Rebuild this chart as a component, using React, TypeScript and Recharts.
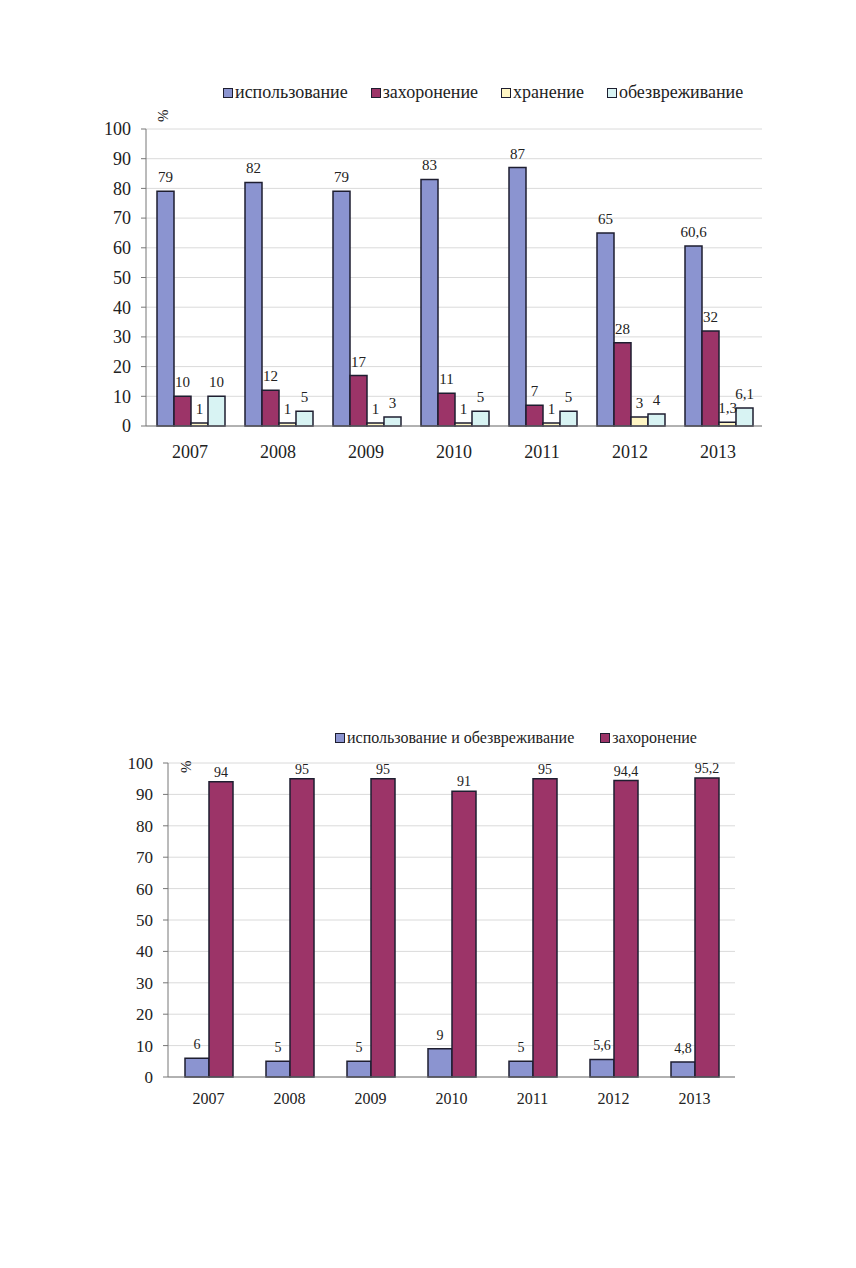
import React from "react";
import { BarChart, Bar, XAxis, YAxis, CartesianGrid, LabelList } from "recharts";

const SERIF = "'Liberation Serif', 'Times New Roman', 'DejaVu Serif', serif";

// ---- chart 1: structure of waste handling, %
const years = ["2007", "2008", "2009", "2010", "2011", "2012", "2013"];
const usage = [79, 82, 79, 83, 87, 65, 60.6];
const burial = [10, 12, 17, 11, 7, 28, 32];
const storage = [1, 1, 1, 1, 1, 3, 1.3];
const neutral = [10, 5, 3, 5, 5, 4, 6.1];

// ---- chart 2
const usageNeutral = [6, 5, 5, 9, 5, 5.6, 4.8];
const burial2 = [94, 95, 95, 91, 95, 94.4, 95.2];

const yTicks = [0, 10, 20, 30, 40, 50, 60, 70, 80, 90, 100];
const bounds = [0, 1, 2, 3, 4, 5, 6, 7];

const BLUE = "#8b94d0";
const PLUM = "#9c3468";
const YELLOW = "#fff6c4";
const CYAN = "#d8f3f3";
const EDGE = "#1e1e30";

const topData = years.map((y, i) => ({
  year: y,
  usage: usage[i],
  burial: burial[i],
  storage: storage[i],
  neutral: neutral[i],
}));

const bottomData = years.map((y, i) => ({
  year: y,
  usageNeutral: usageNeutral[i],
  burial: burial2[i],
}));

const fmt = (v: any) => String(v).replace(".", ",");

const labelStyle = { fontFamily: SERIF, fontSize: 15, fill: "#222" };

function LegendRow({ items, fontSize, gap }: { items: { label: string; color: string }[]; fontSize: number; gap: number }) {
  return (
    <div style={{ display: "flex", alignItems: "center", gap, fontFamily: SERIF, fontSize, color: "#222", whiteSpace: "nowrap" }}>
      {items.map((it) => (
        <span key={it.label} style={{ display: "flex", alignItems: "center" }}>
          <span style={{ width: 8, height: 8, background: it.color, border: `1.5px solid ${EDGE}`, marginRight: 2 }} />
          {it.label}
        </span>
      ))}
    </div>
  );
}

function Pct({ left, top }: { left: number; top: number }) {
  return (
    <div style={{ position: "absolute", left, top, fontFamily: SERIF, fontSize: 15, color: "#222", transform: "rotate(-90deg)", transformOrigin: "left top" }}>
      %
    </div>
  );
}

export default function App() {
  return (
    <div style={{ position: "absolute", left: 0, top: 0, width: 856, height: 1268, background: "#fff" }}>
      {/* top chart */}
      <div style={{ position: "absolute", left: 0, top: 0 }}>
        <BarChart width={856} height={500} data={topData} margin={{ top: 129, right: 94, left: 96, bottom: 44 }} barGap={0} barCategoryGap={11}>
          <CartesianGrid vertical={false} stroke="#dadada" />
          <XAxis xAxisId="b" type="number" domain={[0, 7]} ticks={bounds} height={0} tick={false} tickSize={5} axisLine={false} tickLine={{ stroke: "#777" }} />
          <XAxis dataKey="year" height={30} tickSize={0} tickMargin={19} axisLine={{ stroke: "#777" }} tickLine={false} tick={{ fontFamily: SERIF, fontSize: 18, fill: "#222" }} interval={0} />
          <YAxis width={50} domain={[0, 100]} ticks={yTicks} tickSize={5} tickMargin={10} axisLine={{ stroke: "#777" }} tickLine={{ stroke: "#777" }} tick={{ fontFamily: SERIF, fontSize: 18, fill: "#222" }} />
          <Bar dataKey="usage" fill={BLUE} stroke={EDGE} strokeWidth={1.5} isAnimationActive={false}>
            <LabelList dataKey="usage" position="top" offset={9} formatter={fmt} style={labelStyle} />
          </Bar>
          <Bar dataKey="burial" fill={PLUM} stroke={EDGE} strokeWidth={1.5} isAnimationActive={false}>
            <LabelList dataKey="burial" position="top" offset={9} formatter={fmt} style={labelStyle} />
          </Bar>
          <Bar dataKey="storage" fill={YELLOW} stroke={EDGE} strokeWidth={1.5} isAnimationActive={false}>
            <LabelList dataKey="storage" position="top" offset={9} formatter={fmt} style={labelStyle} />
          </Bar>
          <Bar dataKey="neutral" fill={CYAN} stroke={EDGE} strokeWidth={1.5} isAnimationActive={false}>
            <LabelList dataKey="neutral" position="top" offset={9} formatter={fmt} style={labelStyle} />
          </Bar>
        </BarChart>
      </div>
      <div style={{ position: "absolute", left: 223, top: 82 }}>
        <LegendRow
          fontSize={18}
          gap={23}
          items={[
            { label: "использование", color: BLUE },
            { label: "захоронение", color: PLUM },
            { label: "хранение", color: YELLOW },
            { label: "обезвреживание", color: CYAN },
          ]}
        />
      </div>
      <Pct left={155} top={122} />

      {/* bottom chart */}
      <div style={{ position: "absolute", left: 0, top: 640 }}>
        <BarChart width={856} height={520} data={bottomData} margin={{ top: 123, right: 121, left: 118, bottom: 53 }} barGap={0} barCategoryGap={17}>
          <CartesianGrid vertical={false} stroke="#dadada" />
          <XAxis xAxisId="b" type="number" domain={[0, 7]} ticks={bounds} height={0} tick={false} tickSize={5} axisLine={false} tickLine={{ stroke: "#777" }} />
          <XAxis dataKey="year" height={30} tickSize={0} tickMargin={16} axisLine={{ stroke: "#777" }} tickLine={false} tick={{ fontFamily: SERIF, fontSize: 16, fill: "#222" }} interval={0} />
          <YAxis width={50} domain={[0, 100]} ticks={yTicks} tickSize={5} tickMargin={10} axisLine={{ stroke: "#777" }} tickLine={{ stroke: "#777" }} tick={{ fontFamily: SERIF, fontSize: 17, fill: "#222" }} />
          <Bar dataKey="usageNeutral" fill={BLUE} stroke={EDGE} strokeWidth={1.5} isAnimationActive={false}>
            <LabelList dataKey="usageNeutral" position="top" offset={9} formatter={fmt} style={{ ...labelStyle, fontSize: 14 }} />
          </Bar>
          <Bar dataKey="burial" fill={PLUM} stroke={EDGE} strokeWidth={1.5} isAnimationActive={false}>
            <LabelList dataKey="burial" position="top" offset={5} formatter={fmt} style={{ ...labelStyle, fontSize: 14 }} />
          </Bar>
        </BarChart>
      </div>
      <div style={{ position: "absolute", left: 335, top: 729 }}>
        <LegendRow
          fontSize={16}
          gap={26}
          items={[
            { label: "использование и обезвреживание", color: BLUE },
            { label: "захоронение", color: PLUM },
          ]}
        />
      </div>
      <Pct left={178} top={773} />
    </div>
  );
}
